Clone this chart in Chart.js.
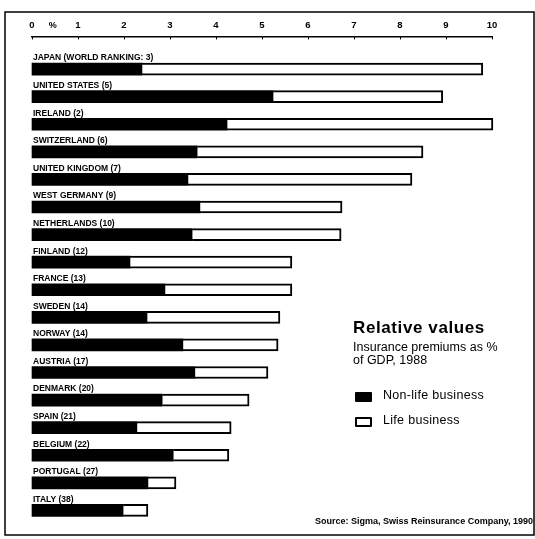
<!DOCTYPE html>
<html>
<head>
<meta charset="utf-8">
<script src="https://cdn.jsdelivr.net/npm/chart.js@4.4.0/dist/chart.umd.min.js"></script>
<style>
    body { margin: 0; background: #fff; }
    #wrap { position: relative; width: 535px; height: 539px; font-family: "Liberation Sans", Arial, sans-serif; color: #000; }
    #chart { position: absolute; left: 0; top: 0; }
    .title { position: absolute; left: 353px; top: 318px; font-size: 17px; font-weight: bold; letter-spacing: 0.6px; }
    .sub { position: absolute; left: 353px; top: 341px; font-size: 12.5px; line-height: 13px; }
    .leg { position: absolute; left: 383px; font-size: 12.5px; letter-spacing: 0.3px; }
    .sw { position: absolute; left: 355px; width: 17px; height: 10px; box-sizing: border-box; border: 2px solid #000; border-radius: 1px; }
    .source { position: absolute; right: 2px; top: 516px; font-size: 9px; font-weight: bold; }
</style>
</head>
<body>
<div id="wrap">
    <canvas id="chart" width="535" height="539"></canvas>
    <div class="title">Relative values</div>
    <div class="sub">Insurance premiums as %<br>of GDP, 1988</div>
    <div class="sw" style="top: 392px; background: #000;"></div>
    <div class="leg" style="top: 388px;">Non-life business</div>
    <div class="sw" style="top: 417px; background: #fff;"></div>
    <div class="leg" style="top: 413px;">Life business</div>
    <div class="source">Source: Sigma, Swiss Reinsurance Company, 1990</div>
</div>
<script>
const countries = [
    'JAPAN (WORLD RANKING: 3)', 'UNITED STATES (5)', 'IRELAND (2)', 'SWITZERLAND (6)',
    'UNITED KINGDOM (7)', 'WEST GERMANY (9)', 'NETHERLANDS (10)', 'FINLAND (12)',
    'FRANCE (13)', 'SWEDEN (14)', 'NORWAY (14)', 'AUSTRIA (17)', 'DENMARK (20)',
    'SPAIN (21)', 'BELGIUM (22)', 'PORTUGAL (27)', 'ITALY (38)'
];
const nonLife = [2.39, 5.24, 4.24, 3.59, 3.39, 3.65, 3.48, 2.13, 2.89, 2.50, 3.28, 3.54, 2.83, 2.28, 3.07, 2.52, 1.98];
const life    = [7.41, 3.69, 5.78, 4.91, 4.87, 3.09, 3.24, 3.52, 2.76, 2.89, 2.07, 1.59, 1.89, 2.05, 1.21, 0.61, 0.54];
const xTicks = [0, 1, 2, 3, 4, 5, 6, 7, 8, 9, 10];

const FONT = '"Liberation Sans", Arial, sans-serif';

// etiquetas dos países, "%" no eixo, marcas e moldura
const decorPlugin = {
    id: 'decor',
    afterDatasetsDraw(chart) {
        const ctx = chart.ctx;
        const x = chart.scales.x;
        const y = chart.scales.y;
        const top = chart.chartArea.top;
        ctx.save();
        ctx.fillStyle = '#000';
        ctx.strokeStyle = '#000';

        ctx.font = 'bold 8.5px ' + FONT;
        ctx.textAlign = 'left';
        ctx.textBaseline = 'middle';
        countries.forEach((c, i) => {
            ctx.fillText(c, x.getPixelForValue(0) + 1, y.getPixelForValue(i) - 11);
        });

        ctx.font = 'bold 9px ' + FONT;
        ctx.textAlign = 'center';
        ctx.fillText('%', x.getPixelForValue(0.45), top - 11);

        ctx.lineWidth = 1;
        xTicks.forEach(t => {
            const px = Math.round(x.getPixelForValue(t)) + 0.5;
            ctx.beginPath();
            ctx.moveTo(px, top);
            ctx.lineTo(px, top + 3);
            ctx.stroke();
        });

        ctx.lineWidth = 1.5;
        ctx.strokeRect(5, 12, 529, 523);
        ctx.restore();
    }
};

new Chart(document.getElementById('chart'), {
    type: 'bar',
    data: {
        datasets: [
            {
                label: 'Non-life business',
                data: countries.map((c, i) => ({ x: nonLife[i], y: i })),
                backgroundColor: '#000',
                borderWidth: 0,
                barThickness: 12,
                clip: false
            },
            {
                label: 'Life business',
                data: countries.map((c, i) => ({ x: life[i], y: i })),
                backgroundColor: '#fff',
                borderColor: '#000',
                borderWidth: 2,
                borderSkipped: 'start',
                barThickness: 12,
                clip: false
            }
        ]
    },
    options: {
        indexAxis: 'y',
        responsive: false,
        animation: false,
        devicePixelRatio: 1,
        layout: { padding: { top: 14, left: 32, right: 43, bottom: 12 } },
        plugins: {
            legend: { display: false },
            tooltip: { enabled: false }
        },
        scales: {
            x: {
                type: 'linear',
                position: 'top',
                min: 0,
                max: 10,
                stacked: true,
                afterBuildTicks: scale => { scale.ticks = xTicks.map(v => ({ value: v })); },
                ticks: { color: '#000', padding: 5.5, font: { family: FONT, size: 9.5, weight: 'bold' } },
                grid: { display: false, drawTicks: false },
                border: { display: true, color: '#000', width: 1.5 }
            },
            y: {
                type: 'linear',
                reverse: true,
                offset: false,
                min: -1.186,
                max: 16.6,
                stacked: true,
                display: false
            }
        }
    },
    plugins: [decorPlugin]
});
</script>
</body>
</html>
